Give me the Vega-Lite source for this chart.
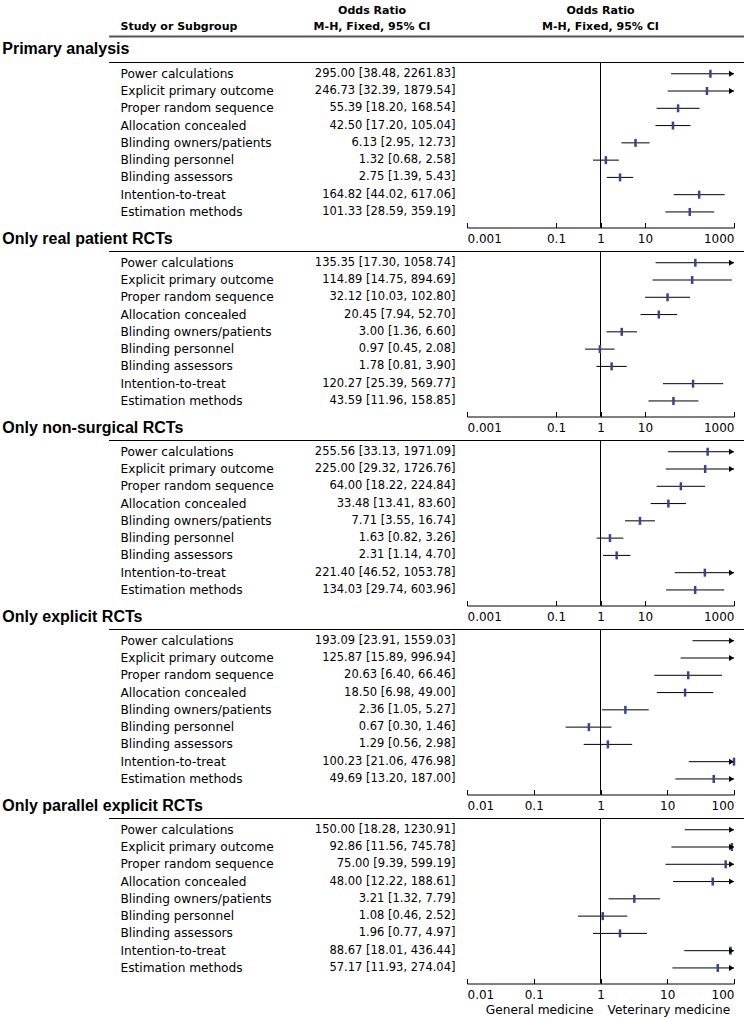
{
  "$schema": "https://vega.github.io/schema/vega-lite/v6.json",
  "padding": {"left": 0, "top": 4.5, "right": 0, "bottom": 0},
  "config": {"view": {"stroke": null}},
  "data": {"values": [
    {"s":1,"sec":"Primary analysis","i":1,"label":"Power calculations","ci":"295.00 [38.48, 2261.83]","est":295.00,"lo":38.48,"hi":2261.83},
    {"s":1,"sec":"Primary analysis","i":2,"label":"Explicit primary outcome","ci":"246.73 [32.39, 1879.54]","est":246.73,"lo":32.39,"hi":1879.54},
    {"s":1,"sec":"Primary analysis","i":3,"label":"Proper random sequence","ci":"55.39 [18.20, 168.54]","est":55.39,"lo":18.20,"hi":168.54},
    {"s":1,"sec":"Primary analysis","i":4,"label":"Allocation concealed","ci":"42.50 [17.20, 105.04]","est":42.50,"lo":17.20,"hi":105.04},
    {"s":1,"sec":"Primary analysis","i":5,"label":"Blinding owners/patients","ci":"6.13 [2.95, 12.73]","est":6.13,"lo":2.95,"hi":12.73},
    {"s":1,"sec":"Primary analysis","i":6,"label":"Blinding personnel","ci":"1.32 [0.68, 2.58]","est":1.32,"lo":0.68,"hi":2.58},
    {"s":1,"sec":"Primary analysis","i":7,"label":"Blinding assessors","ci":"2.75 [1.39, 5.43]","est":2.75,"lo":1.39,"hi":5.43},
    {"s":1,"sec":"Primary analysis","i":8,"label":"Intention-to-treat","ci":"164.82 [44.02, 617.06]","est":164.82,"lo":44.02,"hi":617.06},
    {"s":1,"sec":"Primary analysis","i":9,"label":"Estimation methods","ci":"101.33 [28.59, 359.19]","est":101.33,"lo":28.59,"hi":359.19},
    {"s":2,"sec":"Only real patient RCTs","i":1,"label":"Power calculations","ci":"135.35 [17.30, 1058.74]","est":135.35,"lo":17.30,"hi":1058.74},
    {"s":2,"sec":"Only real patient RCTs","i":2,"label":"Explicit primary outcome","ci":"114.89 [14.75, 894.69]","est":114.89,"lo":14.75,"hi":894.69},
    {"s":2,"sec":"Only real patient RCTs","i":3,"label":"Proper random sequence","ci":"32.12 [10.03, 102.80]","est":32.12,"lo":10.03,"hi":102.80},
    {"s":2,"sec":"Only real patient RCTs","i":4,"label":"Allocation concealed","ci":"20.45 [7.94, 52.70]","est":20.45,"lo":7.94,"hi":52.70},
    {"s":2,"sec":"Only real patient RCTs","i":5,"label":"Blinding owners/patients","ci":"3.00 [1.36, 6.60]","est":3.00,"lo":1.36,"hi":6.60},
    {"s":2,"sec":"Only real patient RCTs","i":6,"label":"Blinding personnel","ci":"0.97 [0.45, 2.08]","est":0.97,"lo":0.45,"hi":2.08},
    {"s":2,"sec":"Only real patient RCTs","i":7,"label":"Blinding assessors","ci":"1.78 [0.81, 3.90]","est":1.78,"lo":0.81,"hi":3.90},
    {"s":2,"sec":"Only real patient RCTs","i":8,"label":"Intention-to-treat","ci":"120.27 [25.39, 569.77]","est":120.27,"lo":25.39,"hi":569.77},
    {"s":2,"sec":"Only real patient RCTs","i":9,"label":"Estimation methods","ci":"43.59 [11.96, 158.85]","est":43.59,"lo":11.96,"hi":158.85},
    {"s":3,"sec":"Only non-surgical RCTs","i":1,"label":"Power calculations","ci":"255.56 [33.13, 1971.09]","est":255.56,"lo":33.13,"hi":1971.09},
    {"s":3,"sec":"Only non-surgical RCTs","i":2,"label":"Explicit primary outcome","ci":"225.00 [29.32, 1726.76]","est":225.00,"lo":29.32,"hi":1726.76},
    {"s":3,"sec":"Only non-surgical RCTs","i":3,"label":"Proper random sequence","ci":"64.00 [18.22, 224.84]","est":64.00,"lo":18.22,"hi":224.84},
    {"s":3,"sec":"Only non-surgical RCTs","i":4,"label":"Allocation concealed","ci":"33.48 [13.41, 83.60]","est":33.48,"lo":13.41,"hi":83.60},
    {"s":3,"sec":"Only non-surgical RCTs","i":5,"label":"Blinding owners/patients","ci":"7.71 [3.55, 16.74]","est":7.71,"lo":3.55,"hi":16.74},
    {"s":3,"sec":"Only non-surgical RCTs","i":6,"label":"Blinding personnel","ci":"1.63 [0.82, 3.26]","est":1.63,"lo":0.82,"hi":3.26},
    {"s":3,"sec":"Only non-surgical RCTs","i":7,"label":"Blinding assessors","ci":"2.31 [1.14, 4.70]","est":2.31,"lo":1.14,"hi":4.70},
    {"s":3,"sec":"Only non-surgical RCTs","i":8,"label":"Intention-to-treat","ci":"221.40 [46.52, 1053.78]","est":221.40,"lo":46.52,"hi":1053.78},
    {"s":3,"sec":"Only non-surgical RCTs","i":9,"label":"Estimation methods","ci":"134.03 [29.74, 603.96]","est":134.03,"lo":29.74,"hi":603.96},
    {"s":4,"sec":"Only explicit RCTs","i":1,"label":"Power calculations","ci":"193.09 [23.91, 1559.03]","est":193.09,"lo":23.91,"hi":1559.03},
    {"s":4,"sec":"Only explicit RCTs","i":2,"label":"Explicit primary outcome","ci":"125.87 [15.89, 996.94]","est":125.87,"lo":15.89,"hi":996.94},
    {"s":4,"sec":"Only explicit RCTs","i":3,"label":"Proper random sequence","ci":"20.63 [6.40, 66.46]","est":20.63,"lo":6.40,"hi":66.46},
    {"s":4,"sec":"Only explicit RCTs","i":4,"label":"Allocation concealed","ci":"18.50 [6.98, 49.00]","est":18.50,"lo":6.98,"hi":49.00},
    {"s":4,"sec":"Only explicit RCTs","i":5,"label":"Blinding owners/patients","ci":"2.36 [1.05, 5.27]","est":2.36,"lo":1.05,"hi":5.27},
    {"s":4,"sec":"Only explicit RCTs","i":6,"label":"Blinding personnel","ci":"0.67 [0.30, 1.46]","est":0.67,"lo":0.30,"hi":1.46},
    {"s":4,"sec":"Only explicit RCTs","i":7,"label":"Blinding assessors","ci":"1.29 [0.56, 2.98]","est":1.29,"lo":0.56,"hi":2.98},
    {"s":4,"sec":"Only explicit RCTs","i":8,"label":"Intention-to-treat","ci":"100.23 [21.06, 476.98]","est":100.23,"lo":21.06,"hi":476.98},
    {"s":4,"sec":"Only explicit RCTs","i":9,"label":"Estimation methods","ci":"49.69 [13.20, 187.00]","est":49.69,"lo":13.20,"hi":187.00},
    {"s":5,"sec":"Only parallel explicit RCTs","i":1,"label":"Power calculations","ci":"150.00 [18.28, 1230.91]","est":150.00,"lo":18.28,"hi":1230.91},
    {"s":5,"sec":"Only parallel explicit RCTs","i":2,"label":"Explicit primary outcome","ci":"92.86 [11.56, 745.78]","est":92.86,"lo":11.56,"hi":745.78},
    {"s":5,"sec":"Only parallel explicit RCTs","i":3,"label":"Proper random sequence","ci":"75.00 [9.39, 599.19]","est":75.00,"lo":9.39,"hi":599.19},
    {"s":5,"sec":"Only parallel explicit RCTs","i":4,"label":"Allocation concealed","ci":"48.00 [12.22, 188.61]","est":48.00,"lo":12.22,"hi":188.61},
    {"s":5,"sec":"Only parallel explicit RCTs","i":5,"label":"Blinding owners/patients","ci":"3.21 [1.32, 7.79]","est":3.21,"lo":1.32,"hi":7.79},
    {"s":5,"sec":"Only parallel explicit RCTs","i":6,"label":"Blinding personnel","ci":"1.08 [0.46, 2.52]","est":1.08,"lo":0.46,"hi":2.52},
    {"s":5,"sec":"Only parallel explicit RCTs","i":7,"label":"Blinding assessors","ci":"1.96 [0.77, 4.97]","est":1.96,"lo":0.77,"hi":4.97},
    {"s":5,"sec":"Only parallel explicit RCTs","i":8,"label":"Intention-to-treat","ci":"88.67 [18.01, 436.44]","est":88.67,"lo":18.01,"hi":436.44},
    {"s":5,"sec":"Only parallel explicit RCTs","i":9,"label":"Estimation methods","ci":"57.17 [11.93, 274.04]","est":57.17,"lo":11.93,"hi":274.04}
  ]},
  "vconcat": [
    {
      "width": 752, "height": 194,
      "transform": [{"filter": "datum.s == 1"}],
      "layer": [
        {"mark": {"type":"text","align":"left","baseline":"middle","font":"DejaVu Sans","fontSize":12.2,"color":"#000"},
         "encoding": {"x": {"datum":0.1602,"type":"quantitative","scale":{"domain":[0,1],"nice":false,"zero":false},"axis":null},
                      "y": {"field":"i","type":"quantitative","scale":{"domain":[-1.33,9.9],"reverse":true,"nice":false,"zero":false},"axis":null},
                      "text": {"field":"label"}}},
        {"mark": {"type":"text","align":"right","baseline":"middle","font":"DejaVu Sans","fontSize":11.5,"color":"#000"},
         "encoding": {"x": {"datum":0.6057,"type":"quantitative","scale":{"domain":[0,1],"nice":false,"zero":false},"axis":null},
                      "y": {"field":"i","type":"quantitative","scale":{"domain":[-1.33,9.9],"reverse":true,"nice":false,"zero":false},"axis":null},
                      "text": {"field":"ci"}}},
        {"transform":[{"filter":"datum.i == 1"}],
         "mark": {"type":"rule","color":"#000","strokeWidth":1},
         "encoding": {"x": {"datum":0.145,"type":"quantitative","scale":{"domain":[0,1],"nice":false,"zero":false},"axis":null},"x2":{"datum":0.9894},
                      "y": {"datum":0.35,"type":"quantitative","scale":{"domain":[-1.33,9.9],"reverse":true,"nice":false,"zero":false},"axis":null}}},
        {"transform":[{"filter":"datum.i == 1"}],
         "mark": {"type":"rule","color":"#555555","strokeWidth":2},
         "encoding": {"x": {"datum":0.145,"type":"quantitative","scale":{"domain":[0,1],"nice":false,"zero":false},"axis":null},"x2":{"datum":0.9894},
                      "y": {"datum":-1.15,"type":"quantitative","scale":{"domain":[-1.33,9.9],"reverse":true,"nice":false,"zero":false},"axis":null}}},
        {"transform":[{"filter":"datum.i == 1"}],
         "mark": {"type":"text","align":"left","baseline":"middle","font":"Liberation Sans","fontWeight":"bold","fontSize":16,"color":"#000"},
         "encoding": {"x": {"datum":0.003,"type":"quantitative","scale":{"domain":[0,1],"nice":false,"zero":false},"axis":null},
                      "y": {"datum":-0.42,"type":"quantitative","scale":{"domain":[-1.33,9.9],"reverse":true,"nice":false,"zero":false},"axis":null},
                      "text": {"field":"sec"}}},
        {"transform":[{"filter":"datum.i == 1"}],
         "mark": {"type":"text","align":"left","baseline":"middle","font":"DejaVu Sans","fontWeight":"bold","fontSize":11,"color":"#000"},
         "encoding": {"x": {"datum":0.1602,"type":"quantitative","scale":{"domain":[0,1],"nice":false,"zero":false},"axis":null},
                      "y": {"datum":-1.70,"type":"quantitative","scale":{"domain":[-1.33,9.9],"reverse":true,"nice":false,"zero":false},"axis":null},
                      "text": {"value":"Study or Subgroup"}}},
        {"transform":[{"filter":"datum.i == 1"}],
         "mark": {"type":"text","align":"center","baseline":"middle","font":"DejaVu Sans","fontWeight":"bold","fontSize":11,"color":"#000"},
         "encoding": {"x": {"datum":0.4947,"type":"quantitative","scale":{"domain":[0,1],"nice":false,"zero":false},"axis":null},
                      "y": {"datum":-2.66,"type":"quantitative","scale":{"domain":[-1.33,9.9],"reverse":true,"nice":false,"zero":false},"axis":null},
                      "text": {"value":"Odds Ratio"}}},
        {"transform":[{"filter":"datum.i == 1"}],
         "mark": {"type":"text","align":"center","baseline":"middle","font":"DejaVu Sans","fontWeight":"bold","fontSize":11,"color":"#000"},
         "encoding": {"x": {"datum":0.4947,"type":"quantitative","scale":{"domain":[0,1],"nice":false,"zero":false},"axis":null},
                      "y": {"datum":-1.70,"type":"quantitative","scale":{"domain":[-1.33,9.9],"reverse":true,"nice":false,"zero":false},"axis":null},
                      "text": {"value":"M-H, Fixed, 95% CI"}}},
        {"transform":[{"filter":"datum.i == 1"}],
         "mark": {"type":"rule","color":"#000","strokeWidth":1},
         "encoding": {"x": {"datum":1,"type":"quantitative","scale":{"type":"log","domain":[0.001,1000],"range":[467,734],"clamp":true,"nice":false},"axis":null},
                      "y": {"datum":0.35,"type":"quantitative","scale":{"domain":[-1.33,9.9],"reverse":true,"nice":false,"zero":false},"axis":null},"y2":{"datum":9.9}}},
        {"mark": {"type":"rule","color":"#000","strokeWidth":1},
         "encoding": {"x": {"field":"lo","type":"quantitative","scale":{"type":"log","domain":[0.001,1000],"range":[467,734],"clamp":true,"nice":false},
                            "axis":{"orient":"bottom","values":[0.001,0.1,1,10,1000],"format":"~g","labelFlush":true,"labelFlushOffset":0,"title":null,"grid":false,"tickSize":-5,"labelPadding":11,"labelFont":"DejaVu Sans","labelFontSize":12,"labelColor":"#000","domainColor":"#000","tickColor":"#000"}},
                      "x2": {"field":"hi"},
                      "y": {"field":"i","type":"quantitative","scale":{"domain":[-1.33,9.9],"reverse":true,"nice":false,"zero":false},"axis":null}}},
        {"transform":[{"filter":"datum.est <= 1000"}],
         "mark": {"type":"tick","orient":"vertical","color":"#34458f","thickness":2.5,"size":8,"opacity":1},
         "encoding": {"x": {"field":"est","type":"quantitative","scale":{"type":"log","domain":[0.001,1000],"range":[467,734],"clamp":true,"nice":false},"axis":null},
                      "y": {"field":"i","type":"quantitative","scale":{"domain":[-1.33,9.9],"reverse":true,"nice":false,"zero":false},"axis":null}}},
        {"transform":[{"filter":"datum.hi > 1000"}],
         "mark": {"type":"point","shape":"M-1,-0.6L0,0L-1,0.6Z","filled":true,"color":"#000","size":100,"opacity":1},
         "encoding": {"x": {"field":"hi","type":"quantitative","scale":{"type":"log","domain":[0.001,1000],"range":[467,734],"clamp":true,"nice":false},"axis":null},
                      "y": {"field":"i","type":"quantitative","scale":{"domain":[-1.33,9.9],"reverse":true,"nice":false,"zero":false},"axis":null}}},
        {"transform":[{"filter":"datum.i == 1"}],
         "mark": {"type":"text","align":"center","baseline":"middle","font":"DejaVu Sans","fontWeight":"bold","fontSize":11,"color":"#000"},
         "encoding": {"x": {"datum":1,"type":"quantitative","scale":{"type":"log","domain":[0.001,1000],"range":[467,734],"clamp":true,"nice":false},"axis":null},
                      "y": {"datum":-2.66,"type":"quantitative","scale":{"domain":[-1.33,9.9],"reverse":true,"nice":false,"zero":false},"axis":null},
                      "text": {"value":"Odds Ratio"}}},
        {"transform":[{"filter":"datum.i == 1"}],
         "mark": {"type":"text","align":"center","baseline":"middle","font":"DejaVu Sans","fontWeight":"bold","fontSize":11,"color":"#000"},
         "encoding": {"x": {"datum":1,"type":"quantitative","scale":{"type":"log","domain":[0.001,1000],"range":[467,734],"clamp":true,"nice":false},"axis":null},
                      "y": {"datum":-1.70,"type":"quantitative","scale":{"domain":[-1.33,9.9],"reverse":true,"nice":false,"zero":false},"axis":null},
                      "text": {"value":"M-H, Fixed, 95% CI"}}}
      ],
      "resolve": {"scale": {"x": "independent"}}
    },
    {
      "width": 752, "height": 165,
      "transform": [{"filter": "datum.s == 2"}],
      "layer": [
        {"mark": {"type":"text","align":"left","baseline":"middle","font":"DejaVu Sans","fontSize":12.2,"color":"#000"},
         "encoding": {"x": {"datum":0.1602,"type":"quantitative","scale":{"domain":[0,1],"nice":false,"zero":false},"axis":null},
                      "y": {"field":"i","type":"quantitative","scale":{"domain":[0.35,9.9],"reverse":true,"nice":false,"zero":false},"axis":null},
                      "text": {"field":"label"}}},
        {"mark": {"type":"text","align":"right","baseline":"middle","font":"DejaVu Sans","fontSize":11.5,"color":"#000"},
         "encoding": {"x": {"datum":0.6057,"type":"quantitative","scale":{"domain":[0,1],"nice":false,"zero":false},"axis":null},
                      "y": {"field":"i","type":"quantitative","scale":{"domain":[0.35,9.9],"reverse":true,"nice":false,"zero":false},"axis":null},
                      "text": {"field":"ci"}}},
        {"transform":[{"filter":"datum.i == 1"}],
         "mark": {"type":"rule","color":"#000","strokeWidth":1},
         "encoding": {"x": {"datum":0.145,"type":"quantitative","scale":{"domain":[0,1],"nice":false,"zero":false},"axis":null},"x2":{"datum":0.9894},
                      "y": {"datum":0.35,"type":"quantitative","scale":{"domain":[0.35,9.9],"reverse":true,"nice":false,"zero":false},"axis":null}}},
        {"transform":[{"filter":"datum.i == 1"}],
         "mark": {"type":"text","align":"left","baseline":"middle","font":"Liberation Sans","fontWeight":"bold","fontSize":16,"color":"#000"},
         "encoding": {"x": {"datum":0.003,"type":"quantitative","scale":{"domain":[0,1],"nice":false,"zero":false},"axis":null},
                      "y": {"datum":-0.35,"type":"quantitative","scale":{"domain":[0.35,9.9],"reverse":true,"nice":false,"zero":false},"axis":null},
                      "text": {"field":"sec"}}},
        {"transform":[{"filter":"datum.i == 1"}],
         "mark": {"type":"rule","color":"#000","strokeWidth":1},
         "encoding": {"x": {"datum":1,"type":"quantitative","scale":{"type":"log","domain":[0.001,1000],"range":[467,734],"clamp":true,"nice":false},"axis":null},
                      "y": {"datum":0.35,"type":"quantitative","scale":{"domain":[0.35,9.9],"reverse":true,"nice":false,"zero":false},"axis":null},"y2":{"datum":9.9}}},
        {"mark": {"type":"rule","color":"#000","strokeWidth":1},
         "encoding": {"x": {"field":"lo","type":"quantitative","scale":{"type":"log","domain":[0.001,1000],"range":[467,734],"clamp":true,"nice":false},
                            "axis":{"orient":"bottom","values":[0.001,0.1,1,10,1000],"format":"~g","labelFlush":true,"labelFlushOffset":0,"title":null,"grid":false,"tickSize":-5,"labelPadding":11,"labelFont":"DejaVu Sans","labelFontSize":12,"labelColor":"#000","domainColor":"#000","tickColor":"#000"}},
                      "x2": {"field":"hi"},
                      "y": {"field":"i","type":"quantitative","scale":{"domain":[0.35,9.9],"reverse":true,"nice":false,"zero":false},"axis":null}}},
        {"transform":[{"filter":"datum.est <= 1000"}],
         "mark": {"type":"tick","orient":"vertical","color":"#34458f","thickness":2.5,"size":8,"opacity":1},
         "encoding": {"x": {"field":"est","type":"quantitative","scale":{"type":"log","domain":[0.001,1000],"range":[467,734],"clamp":true,"nice":false},"axis":null},
                      "y": {"field":"i","type":"quantitative","scale":{"domain":[0.35,9.9],"reverse":true,"nice":false,"zero":false},"axis":null}}},
        {"transform":[{"filter":"datum.hi > 1000"}],
         "mark": {"type":"point","shape":"M-1,-0.6L0,0L-1,0.6Z","filled":true,"color":"#000","size":100,"opacity":1},
         "encoding": {"x": {"field":"hi","type":"quantitative","scale":{"type":"log","domain":[0.001,1000],"range":[467,734],"clamp":true,"nice":false},"axis":null},
                      "y": {"field":"i","type":"quantitative","scale":{"domain":[0.35,9.9],"reverse":true,"nice":false,"zero":false},"axis":null}}}
      ],
      "resolve": {"scale": {"x": "independent"}}
    },
    {
      "width": 752, "height": 165,
      "transform": [{"filter": "datum.s == 3"}],
      "layer": [
        {"mark": {"type":"text","align":"left","baseline":"middle","font":"DejaVu Sans","fontSize":12.2,"color":"#000"},
         "encoding": {"x": {"datum":0.1602,"type":"quantitative","scale":{"domain":[0,1],"nice":false,"zero":false},"axis":null},
                      "y": {"field":"i","type":"quantitative","scale":{"domain":[0.35,9.9],"reverse":true,"nice":false,"zero":false},"axis":null},
                      "text": {"field":"label"}}},
        {"mark": {"type":"text","align":"right","baseline":"middle","font":"DejaVu Sans","fontSize":11.5,"color":"#000"},
         "encoding": {"x": {"datum":0.6057,"type":"quantitative","scale":{"domain":[0,1],"nice":false,"zero":false},"axis":null},
                      "y": {"field":"i","type":"quantitative","scale":{"domain":[0.35,9.9],"reverse":true,"nice":false,"zero":false},"axis":null},
                      "text": {"field":"ci"}}},
        {"transform":[{"filter":"datum.i == 1"}],
         "mark": {"type":"rule","color":"#000","strokeWidth":1},
         "encoding": {"x": {"datum":0.145,"type":"quantitative","scale":{"domain":[0,1],"nice":false,"zero":false},"axis":null},"x2":{"datum":0.9894},
                      "y": {"datum":0.35,"type":"quantitative","scale":{"domain":[0.35,9.9],"reverse":true,"nice":false,"zero":false},"axis":null}}},
        {"transform":[{"filter":"datum.i == 1"}],
         "mark": {"type":"text","align":"left","baseline":"middle","font":"Liberation Sans","fontWeight":"bold","fontSize":16,"color":"#000"},
         "encoding": {"x": {"datum":0.003,"type":"quantitative","scale":{"domain":[0,1],"nice":false,"zero":false},"axis":null},
                      "y": {"datum":-0.35,"type":"quantitative","scale":{"domain":[0.35,9.9],"reverse":true,"nice":false,"zero":false},"axis":null},
                      "text": {"field":"sec"}}},
        {"transform":[{"filter":"datum.i == 1"}],
         "mark": {"type":"rule","color":"#000","strokeWidth":1},
         "encoding": {"x": {"datum":1,"type":"quantitative","scale":{"type":"log","domain":[0.001,1000],"range":[467,734],"clamp":true,"nice":false},"axis":null},
                      "y": {"datum":0.35,"type":"quantitative","scale":{"domain":[0.35,9.9],"reverse":true,"nice":false,"zero":false},"axis":null},"y2":{"datum":9.9}}},
        {"mark": {"type":"rule","color":"#000","strokeWidth":1},
         "encoding": {"x": {"field":"lo","type":"quantitative","scale":{"type":"log","domain":[0.001,1000],"range":[467,734],"clamp":true,"nice":false},
                            "axis":{"orient":"bottom","values":[0.001,0.1,1,10,1000],"format":"~g","labelFlush":true,"labelFlushOffset":0,"title":null,"grid":false,"tickSize":-5,"labelPadding":11,"labelFont":"DejaVu Sans","labelFontSize":12,"labelColor":"#000","domainColor":"#000","tickColor":"#000"}},
                      "x2": {"field":"hi"},
                      "y": {"field":"i","type":"quantitative","scale":{"domain":[0.35,9.9],"reverse":true,"nice":false,"zero":false},"axis":null}}},
        {"transform":[{"filter":"datum.est <= 1000"}],
         "mark": {"type":"tick","orient":"vertical","color":"#34458f","thickness":2.5,"size":8,"opacity":1},
         "encoding": {"x": {"field":"est","type":"quantitative","scale":{"type":"log","domain":[0.001,1000],"range":[467,734],"clamp":true,"nice":false},"axis":null},
                      "y": {"field":"i","type":"quantitative","scale":{"domain":[0.35,9.9],"reverse":true,"nice":false,"zero":false},"axis":null}}},
        {"transform":[{"filter":"datum.hi > 1000"}],
         "mark": {"type":"point","shape":"M-1,-0.6L0,0L-1,0.6Z","filled":true,"color":"#000","size":100,"opacity":1},
         "encoding": {"x": {"field":"hi","type":"quantitative","scale":{"type":"log","domain":[0.001,1000],"range":[467,734],"clamp":true,"nice":false},"axis":null},
                      "y": {"field":"i","type":"quantitative","scale":{"domain":[0.35,9.9],"reverse":true,"nice":false,"zero":false},"axis":null}}}
      ],
      "resolve": {"scale": {"x": "independent"}}
    },
    {
      "width": 752, "height": 165,
      "transform": [{"filter": "datum.s == 4"}],
      "layer": [
        {"mark": {"type":"text","align":"left","baseline":"middle","font":"DejaVu Sans","fontSize":12.2,"color":"#000"},
         "encoding": {"x": {"datum":0.1602,"type":"quantitative","scale":{"domain":[0,1],"nice":false,"zero":false},"axis":null},
                      "y": {"field":"i","type":"quantitative","scale":{"domain":[0.35,9.9],"reverse":true,"nice":false,"zero":false},"axis":null},
                      "text": {"field":"label"}}},
        {"mark": {"type":"text","align":"right","baseline":"middle","font":"DejaVu Sans","fontSize":11.5,"color":"#000"},
         "encoding": {"x": {"datum":0.6057,"type":"quantitative","scale":{"domain":[0,1],"nice":false,"zero":false},"axis":null},
                      "y": {"field":"i","type":"quantitative","scale":{"domain":[0.35,9.9],"reverse":true,"nice":false,"zero":false},"axis":null},
                      "text": {"field":"ci"}}},
        {"transform":[{"filter":"datum.i == 1"}],
         "mark": {"type":"rule","color":"#000","strokeWidth":1},
         "encoding": {"x": {"datum":0.145,"type":"quantitative","scale":{"domain":[0,1],"nice":false,"zero":false},"axis":null},"x2":{"datum":0.9894},
                      "y": {"datum":0.35,"type":"quantitative","scale":{"domain":[0.35,9.9],"reverse":true,"nice":false,"zero":false},"axis":null}}},
        {"transform":[{"filter":"datum.i == 1"}],
         "mark": {"type":"text","align":"left","baseline":"middle","font":"Liberation Sans","fontWeight":"bold","fontSize":16,"color":"#000"},
         "encoding": {"x": {"datum":0.003,"type":"quantitative","scale":{"domain":[0,1],"nice":false,"zero":false},"axis":null},
                      "y": {"datum":-0.35,"type":"quantitative","scale":{"domain":[0.35,9.9],"reverse":true,"nice":false,"zero":false},"axis":null},
                      "text": {"field":"sec"}}},
        {"transform":[{"filter":"datum.i == 1"}],
         "mark": {"type":"rule","color":"#000","strokeWidth":1},
         "encoding": {"x": {"datum":1,"type":"quantitative","scale":{"type":"log","domain":[0.01,100],"range":[467,734],"clamp":true,"nice":false},"axis":null},
                      "y": {"datum":0.35,"type":"quantitative","scale":{"domain":[0.35,9.9],"reverse":true,"nice":false,"zero":false},"axis":null},"y2":{"datum":9.9}}},
        {"mark": {"type":"rule","color":"#000","strokeWidth":1},
         "encoding": {"x": {"field":"lo","type":"quantitative","scale":{"type":"log","domain":[0.01,100],"range":[467,734],"clamp":true,"nice":false},
                            "axis":{"orient":"bottom","values":[0.01,0.1,1,10,100],"format":"~g","labelFlush":true,"labelFlushOffset":0,"title":null,"grid":false,"tickSize":-5,"labelPadding":11,"labelFont":"DejaVu Sans","labelFontSize":12,"labelColor":"#000","domainColor":"#000","tickColor":"#000"}},
                      "x2": {"field":"hi"},
                      "y": {"field":"i","type":"quantitative","scale":{"domain":[0.35,9.9],"reverse":true,"nice":false,"zero":false},"axis":null}}},
        {"transform":[{"filter":"datum.est <= 101"}],
         "mark": {"type":"tick","orient":"vertical","color":"#34458f","thickness":2.5,"size":8,"opacity":1},
         "encoding": {"x": {"field":"est","type":"quantitative","scale":{"type":"log","domain":[0.01,100],"range":[467,734],"clamp":true,"nice":false},"axis":null},
                      "y": {"field":"i","type":"quantitative","scale":{"domain":[0.35,9.9],"reverse":true,"nice":false,"zero":false},"axis":null}}},
        {"transform":[{"filter":"datum.hi > 100"}],
         "mark": {"type":"point","shape":"M-1,-0.6L0,0L-1,0.6Z","filled":true,"color":"#000","size":100,"opacity":1},
         "encoding": {"x": {"field":"hi","type":"quantitative","scale":{"type":"log","domain":[0.01,100],"range":[467,734],"clamp":true,"nice":false},"axis":null},
                      "y": {"field":"i","type":"quantitative","scale":{"domain":[0.35,9.9],"reverse":true,"nice":false,"zero":false},"axis":null}}}
      ],
      "resolve": {"scale": {"x": "independent"}}
    },
    {
      "width": 752, "height": 165,
      "transform": [{"filter": "datum.s == 5"}],
      "layer": [
        {"mark": {"type":"text","align":"left","baseline":"middle","font":"DejaVu Sans","fontSize":12.2,"color":"#000"},
         "encoding": {"x": {"datum":0.1602,"type":"quantitative","scale":{"domain":[0,1],"nice":false,"zero":false},"axis":null},
                      "y": {"field":"i","type":"quantitative","scale":{"domain":[0.35,9.9],"reverse":true,"nice":false,"zero":false},"axis":null},
                      "text": {"field":"label"}}},
        {"mark": {"type":"text","align":"right","baseline":"middle","font":"DejaVu Sans","fontSize":11.5,"color":"#000"},
         "encoding": {"x": {"datum":0.6057,"type":"quantitative","scale":{"domain":[0,1],"nice":false,"zero":false},"axis":null},
                      "y": {"field":"i","type":"quantitative","scale":{"domain":[0.35,9.9],"reverse":true,"nice":false,"zero":false},"axis":null},
                      "text": {"field":"ci"}}},
        {"transform":[{"filter":"datum.i == 1"}],
         "mark": {"type":"rule","color":"#000","strokeWidth":1},
         "encoding": {"x": {"datum":0.145,"type":"quantitative","scale":{"domain":[0,1],"nice":false,"zero":false},"axis":null},"x2":{"datum":0.9894},
                      "y": {"datum":0.35,"type":"quantitative","scale":{"domain":[0.35,9.9],"reverse":true,"nice":false,"zero":false},"axis":null}}},
        {"transform":[{"filter":"datum.i == 1"}],
         "mark": {"type":"text","align":"left","baseline":"middle","font":"Liberation Sans","fontWeight":"bold","fontSize":16,"color":"#000"},
         "encoding": {"x": {"datum":0.003,"type":"quantitative","scale":{"domain":[0,1],"nice":false,"zero":false},"axis":null},
                      "y": {"datum":-0.35,"type":"quantitative","scale":{"domain":[0.35,9.9],"reverse":true,"nice":false,"zero":false},"axis":null},
                      "text": {"field":"sec"}}},
        {"transform":[{"filter":"datum.i == 1"}],
         "mark": {"type":"rule","color":"#000","strokeWidth":1},
         "encoding": {"x": {"datum":1,"type":"quantitative","scale":{"type":"log","domain":[0.01,100],"range":[467,734],"clamp":true,"nice":false},"axis":null},
                      "y": {"datum":0.35,"type":"quantitative","scale":{"domain":[0.35,9.9],"reverse":true,"nice":false,"zero":false},"axis":null},"y2":{"datum":9.9}}},
        {"mark": {"type":"rule","color":"#000","strokeWidth":1},
         "encoding": {"x": {"field":"lo","type":"quantitative","scale":{"type":"log","domain":[0.01,100],"range":[467,734],"clamp":true,"nice":false},
                            "axis":{"orient":"bottom","values":[0.01,0.1,1,10,100],"format":"~g","labelFlush":true,"labelFlushOffset":0,"title":null,"grid":false,"tickSize":-5,"labelPadding":11,"labelFont":"DejaVu Sans","labelFontSize":12,"labelColor":"#000","domainColor":"#000","tickColor":"#000"}},
                      "x2": {"field":"hi"},
                      "y": {"field":"i","type":"quantitative","scale":{"domain":[0.35,9.9],"reverse":true,"nice":false,"zero":false},"axis":null}}},
        {"transform":[{"filter":"datum.est <= 101"}],
         "mark": {"type":"tick","orient":"vertical","color":"#34458f","thickness":2.5,"size":8,"opacity":1},
         "encoding": {"x": {"field":"est","type":"quantitative","scale":{"type":"log","domain":[0.01,100],"range":[467,734],"clamp":true,"nice":false},"axis":null},
                      "y": {"field":"i","type":"quantitative","scale":{"domain":[0.35,9.9],"reverse":true,"nice":false,"zero":false},"axis":null}}},
        {"transform":[{"filter":"datum.hi > 100"}],
         "mark": {"type":"point","shape":"M-1,-0.6L0,0L-1,0.6Z","filled":true,"color":"#000","size":100,"opacity":1},
         "encoding": {"x": {"field":"hi","type":"quantitative","scale":{"type":"log","domain":[0.01,100],"range":[467,734],"clamp":true,"nice":false},"axis":null},
                      "y": {"field":"i","type":"quantitative","scale":{"domain":[0.35,9.9],"reverse":true,"nice":false,"zero":false},"axis":null}}},
        {"transform":[{"filter":"datum.i == 1"}],
         "mark": {"type":"text","align":"right","baseline":"middle","dx":-7,"font":"DejaVu Sans","fontSize":12.2,"color":"#000"},
         "encoding": {"x": {"datum":1,"type":"quantitative","scale":{"type":"log","domain":[0.01,100],"range":[467,734],"clamp":true,"nice":false},"axis":null},
                      "y": {"datum":11.405,"type":"quantitative","scale":{"domain":[0.35,9.9],"reverse":true,"nice":false,"zero":false},"axis":null},
                      "text": {"value":"General medicine"}}},
        {"transform":[{"filter":"datum.i == 1"}],
         "mark": {"type":"text","align":"left","baseline":"middle","dx":7,"font":"DejaVu Sans","fontSize":12.2,"color":"#000"},
         "encoding": {"x": {"datum":1,"type":"quantitative","scale":{"type":"log","domain":[0.01,100],"range":[467,734],"clamp":true,"nice":false},"axis":null},
                      "y": {"datum":11.405,"type":"quantitative","scale":{"domain":[0.35,9.9],"reverse":true,"nice":false,"zero":false},"axis":null},
                      "text": {"value":"Veterinary medicine"}}}
      ],
      "resolve": {"scale": {"x": "independent"}}
    }
  ],
  "spacing": 24,
  "bounds": "flush"
}
